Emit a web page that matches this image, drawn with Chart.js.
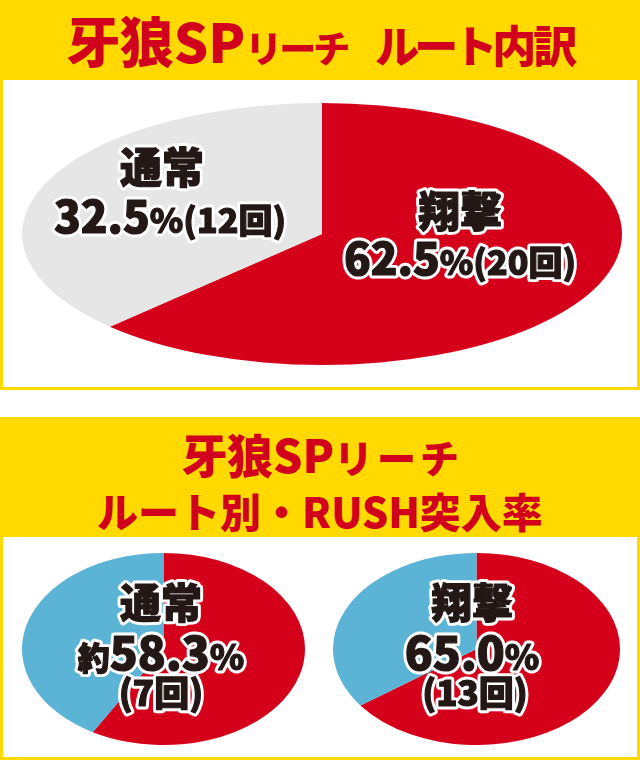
<!DOCTYPE html>
<html lang="ja">
<head>
<meta charset="utf-8">
<script src="https://cdn.jsdelivr.net/npm/chart.js@4.4.1/dist/chart.umd.min.js"></script>
<style>
  body {
    margin: 0;
    width: 640px;
    height: 760px;
    background: #fff;
    position: relative;
    overflow: hidden;
    font-family: "Noto Sans CJK JP", sans-serif;
  }
  .frame { position: absolute; left: 0; width: 640px; background: #FFD900; }
  .inner { position: absolute; left: 3px; right: 3px; bottom: 3px; background: #fff; }
  .title {
    position: absolute; left: 0; right: 0; text-align: center;
    color: #D1001C; font-weight: 900; white-space: nowrap;
  }
  .title span { display: inline-block; }
  canvas { position: absolute; }
</style>
</head>
<body>
<div class="frame" style="top:0; height:390px;">
  <div class="inner" style="top:80px;"></div>
</div>
<div class="title" style="top:0; height:80px; line-height:80px;">
  <span style="font-size:54px">牙狼SP</span><span style="font-size:37px; letter-spacing:-3px">リーチ</span><span style="font-size:44px; letter-spacing:-5px; margin-left:28px">ルート</span><span style="font-size:44px; letter-spacing:-3px">内訳</span>
</div>

<div class="frame" style="top:417px; height:343px;">
  <div class="inner" style="top:120px;"></div>
</div>
<div class="title" style="top:433px; height:40px; line-height:40px;">
  <span style="font-size:46px">牙狼SP</span><span style="font-size:39px; letter-spacing:4px; margin-right:-4px">リーチ</span>
</div>
<div class="title" style="top:490px; height:40px; line-height:40px;">
  <span style="font-size:41px">ルート別・RUSH突入率</span>
</div>

<canvas id="routeChart" width="600" height="262" style="left:22px; top:103px;"></canvas>
<canvas id="normalChart" width="283" height="192" style="left:22px; top:553px;"></canvas>
<canvas id="shogekiChart" width="287" height="192" style="left:333px; top:553px;"></canvas>

<script>
// ルート内訳 (回数と表記の割合)
const routeNames = ['翔撃', '通常'];
const routeCounts = [20, 12];
const routeRates = ['62.5', '32.5'];

// ルート別 RUSH突入 (突入回数 / 非突入回数)
const rushNames = ['通常', '翔撃'];
const rushHits = [7, 13];
const rushMisses = [5, 7];
const rushRates = ['約58.3', '65.0'];

const RED = '#D5001A';
const GREY = '#E6E6E6';
const BLUE = '#5BB3D6';
const FONT = '"Noto Sans CJK JP", "Noto Sans CJK SC", sans-serif';

// ラベル (キャンバス座標、ベースライン基準)
const labelSets = {
  routeChart: [
    { x: 140, y: 80, runs: [[routeNames[1], 42]] },
    { x: 148, y: 130, runs: [[routeRates[1], 44], ['%', 34], ['(' + routeCounts[1] + '回)', 34]] },
    { x: 438, y: 124, runs: [[routeNames[0], 42]] },
    { x: 438, y: 172, runs: [[routeRates[0], 44], ['%', 34], ['(' + routeCounts[0] + '回)', 34]] }
  ],
  normalChart: [
    { x: 139, y: 65, runs: [[rushNames[0], 41]] },
    { x: 139, y: 117, runs: [['約', 32], [rushRates[0].replace('約', ''), 46], ['%', 35]] },
    { x: 139, y: 153, runs: [['(' + rushHits[0] + '回)', 35]] }
  ],
  shogekiChart: [
    { x: 139, y: 65, runs: [[rushNames[1], 41]] },
    { x: 139, y: 117, runs: [[rushRates[1], 46], ['%', 35]] },
    { x: 142, y: 153, runs: [['(' + rushHits[1] + '回)', 35]] }
  ]
};

// 1行分のテキストを白フチ付きで描画
function drawLine(ctx, line) {
  const parts = line.runs.map(r => {
    ctx.font = '900 ' + r[1] + 'px ' + FONT;
    return { text: r[0], font: ctx.font, w: ctx.measureText(r[0]).width };
  });
  const total = parts.reduce((s, p) => s + p.w, 0);
  ctx.textBaseline = 'alphabetic';
  ctx.textAlign = 'left';
  ctx.lineJoin = 'round';
  ctx.lineWidth = 7;
  ctx.strokeStyle = '#fff';
  ctx.fillStyle = '#231815';
  let x = line.x - total / 2;
  parts.forEach(p => { ctx.font = p.font; ctx.strokeText(p.text, x, line.y); x += p.w; });
  // 少し太く見せるため本体にも細い線を重ねる
  ctx.lineWidth = 1.2;
  ctx.strokeStyle = '#231815';
  x = line.x - total / 2;
  parts.forEach(p => {
    ctx.font = p.font;
    ctx.fillText(p.text, x, line.y);
    ctx.strokeText(p.text, x, line.y);
    x += p.w;
  });
}

// 円グラフを横に引き伸ばして楕円にするプラグイン
const ellipsePlugin = {
  id: 'ellipse',
  beforeDatasetsDraw(chart) {
    const arc = chart.getDatasetMeta(0).data[0];
    const sx = (chart.chartArea.width / 2) / arc.outerRadius;
    const ctx = chart.ctx;
    ctx.save();
    ctx.translate(arc.x, arc.y);
    ctx.scale(sx, 1);
    ctx.translate(-arc.x, -arc.y);
  },
  afterDatasetsDraw(chart) {
    chart.ctx.restore();
  },
  afterDraw(chart) {
    const lines = labelSets[chart.canvas.id] || [];
    chart.ctx.save();
    lines.forEach(l => drawLine(chart.ctx, l));
    chart.ctx.restore();
  }
};

const commonOptions = {
  responsive: false,
  animation: false,
  events: [],
  layout: { padding: 0 },
  plugins: {
    legend: { display: false },
    tooltip: { enabled: false }
  }
};

function makePie(id, values, colors) {
  return new Chart(document.getElementById(id), {
    type: 'pie',
    data: {
      datasets: [{
        data: values,
        backgroundColor: colors,
        borderWidth: 0,
        hoverOffset: 0
      }]
    },
    options: commonOptions,
    plugins: [ellipsePlugin]
  });
}

makePie('routeChart', routeCounts, [RED, GREY]);
makePie('normalChart', [rushHits[0], rushMisses[0]], [RED, BLUE]);
makePie('shogekiChart', [rushHits[1], rushMisses[1]], [RED, BLUE]);
</script>
</body>
</html>
